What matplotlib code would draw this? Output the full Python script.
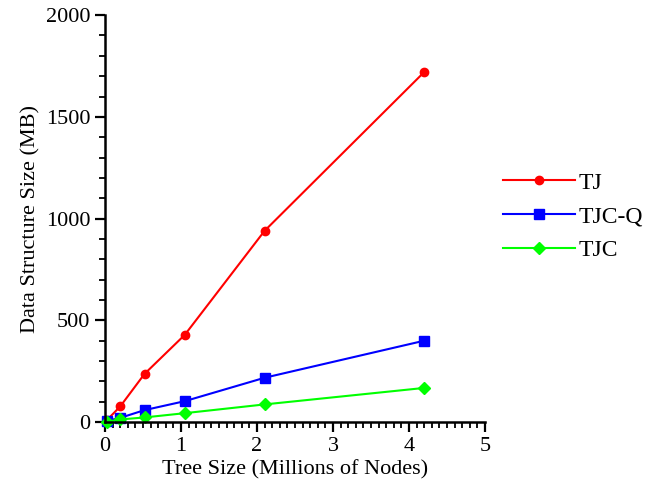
import matplotlib
matplotlib.use('Agg')
import matplotlib.pyplot as plt
from matplotlib.ticker import MultipleLocator

plt.rcParams['font.family'] = ['Liberation Serif', 'DejaVu Serif']

# tree sizes (millions of nodes)
tree_size = [0.025, 0.2, 0.52, 1.05, 2.1, 4.2]
tj = [10, 77, 237, 429, 940, 1720]
tjc_q = [6, 21, 59, 103, 218, 400]
tjc = [2, 13, 23, 44, 87, 168]

fig = plt.figure(figsize=(6.58, 4.88), dpi=100)
ax = fig.add_axes([0.1596, 0.135, 0.737 - 0.1596, 0.969 - 0.135])

ax.plot(tree_size, tj, color='#ff0000', marker='o', markersize=6, lw=1.5, label='TJ', clip_on=False)
ax.plot(tree_size, tjc_q, color='#0000ff', marker='s', markersize=6.5, lw=1.5, label='TJC-Q', clip_on=False)
ax.plot(tree_size, tjc, color='#00ff00', marker='D', markersize=6, lw=1.5, label='TJC', clip_on=False)

ax.set_xlim(0, 5)
ax.set_ylim(0, 2000)
ax.xaxis.set_major_locator(MultipleLocator(1))
ax.xaxis.set_minor_locator(MultipleLocator(0.1))
ax.yaxis.set_major_locator(MultipleLocator(500))
ax.yaxis.set_minor_locator(MultipleLocator(100))

for s in ['top', 'right']:
    ax.spines[s].set_visible(False)
for s in ['left', 'bottom']:
    ax.spines[s].set_linewidth(1.8)
ax.tick_params(which='major', direction='out', length=7, width=1.6, labelsize=16)
ax.tick_params(which='minor', direction='out', length=4, width=1.3)

ax.set_xlabel('Tree Size (Millions of Nodes)', fontsize=16, labelpad=3)
ax.set_ylabel('Data Structure Size (MB)', fontsize=16, labelpad=4)

ax.legend(loc='center left', bbox_to_anchor=(503 / 658, 0.556), bbox_transform=fig.transFigure,
          frameon=False, fontsize=17, handlelength=3.05, handletextpad=0.17,
          labelspacing=0.52, borderpad=0, borderaxespad=0)

fig.savefig('out.png', dpi=100)
